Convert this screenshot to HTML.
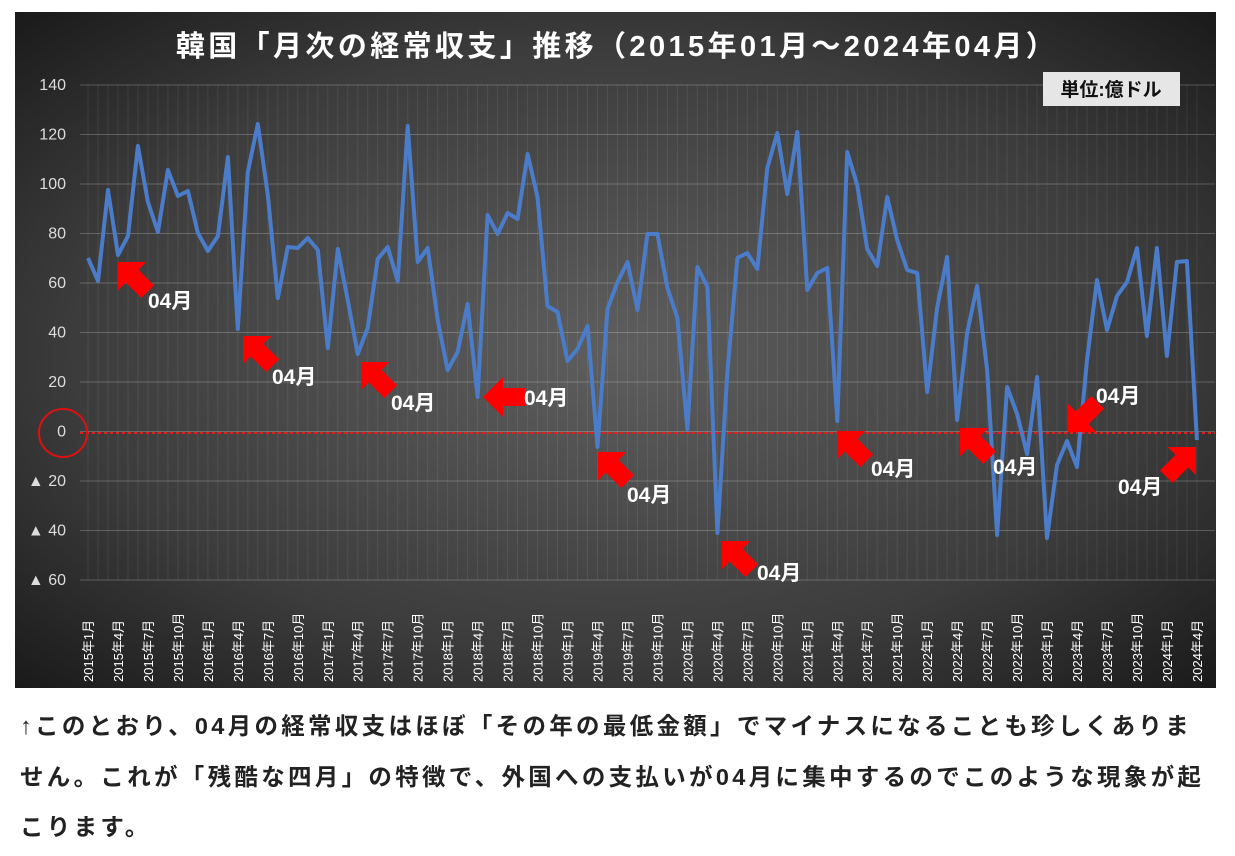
<!DOCTYPE html>
<html><head><meta charset="utf-8"><style>
body{margin:0;background:#fff;width:1235px;height:856px;overflow:hidden;font-family:"Liberation Sans","Noto Sans CJK JP",sans-serif}
.t{position:absolute;left:20px;width:1215px;font-size:23.5px;font-weight:bold;color:#222;letter-spacing:3.3px;white-space:nowrap}
</style></head><body>
<svg width="1235" height="700" style="position:absolute;left:0;top:0" font-family="Liberation Sans, Noto Sans CJK JP, sans-serif">
<defs><radialGradient id="bg" cx="0.5" cy="0.5" r="0.75"><stop offset="0" stop-color="#5e5e5e"/><stop offset="0.6" stop-color="#3c3c3c"/><stop offset="1" stop-color="#141414"/></radialGradient></defs>
<rect x="15" y="12" width="1201" height="676" fill="url(#bg)"/>
<g id="grid"></g>
<text x="617" y="56" fill="#fff" font-size="29" font-weight="bold" text-anchor="middle" letter-spacing="3.4">韓国「月次の経常収支」推移（2015年01月～2024年04月）</text>
<rect x="1043" y="72" width="137" height="34" fill="#e6e6e6"/>
<text x="1111" y="96" font-size="19" font-weight="bold" text-anchor="middle" fill="#111">単位:億ドル</text>
<g id="yl" fill="#ddd" font-size="16" text-anchor="end"></g>
<g id="xl" fill="#fff" font-size="13"></g>
<line x1="80" y1="433" x2="1215" y2="433" stroke="#e02020" stroke-width="2" stroke-dasharray="3,3"/>
<circle cx="63" cy="433" r="24" fill="none" stroke="#e01010" stroke-width="2"/>
<polyline id="ln" fill="none" stroke="#4a7cc9" stroke-width="4" stroke-linejoin="round"/>
<g id="ar" fill="#ff0000"></g>
<g id="al" fill="#fff" font-size="21" font-weight="bold"></g>
</svg>
<div class="t" style="top:707px">↑このとおり、04月の経常収支はほぼ「その年の最低金額」でマイナスになることも珍しくありま</div>
<div class="t" style="top:758px">せん。これが「残酷な四月」の特徴で、外国への支払いが04月に集中するのでこのような現象が起</div>
<div class="t" style="top:808px">こります。</div>
<script>
var ns="http://www.w3.org/2000/svg";
function el(p,t,a,txt){var e=document.createElementNS(ns,t);for(var k in a)e.setAttribute(k,a[k]);if(txt)e.textContent=txt;document.getElementById(p).appendChild(e);}
for(var i=0;i<=10;i++){var y=85+i*49.5;el("grid","line",{x1:80,x2:1215,y1:y,y2:y,stroke:"rgba(255,255,255,0.22)","stroke-width":1});
var v=140-i*20;el("yl","text",{x:66,y:y+5},v<0?"▲ "+(-v):""+v);}
for(var m=0;m<112;m++){var x=88+m*9.99;el("grid","line",{x1:x,x2:x,y1:85,y2:580,stroke:"rgba(255,255,255,0.08)","stroke-width":1});
if(m%3==0){var yr=2015+Math.floor(m/12),mo=m%12+1;el("xl","text",{transform:"translate("+(x+5)+",682) rotate(-90)"},yr+"年"+mo+"月");}}
var Y=[258,281,190,255,236,146,202,232,170,196,191,233,251,236,157,329,172,124,195,298,247,248,238,250,348,249,300,354,328,259,247,281,126,262,248,320,370,352,304,397,215,234,213,219,154,197,306,312,361,349,326,447,309,282,262,310,234,234,288,318,429,267,287,533,372,258,253,269,168,133,194,132,290,273,268,421,152,185,249,266,197,240,270,273,392,308,257,420,333,286,370,535,387,414,454,377,538,465,441,467,360,280,330,296,282,248,336,248,356,262,261,440];
document.getElementById("ln").setAttribute("points",Y.map(function(y,i){return (88+i*9.99).toFixed(1)+","+y}).join(" "));
var A=[[118,262,45,148,308],[243,336,45,272,384],[361,362,45,391,410],[483,397,0,524,405],[598,452,45,627,502],[722,541,45,757,580],[837,431,45,871,476],[960,428,45,993,474],[1068,432,-45,1096,403],[1196,447,135,1118,494]];
A.forEach(function(a){el("ar","polygon",{points:"0,0 20,-20 20,-9 42,-9 42,9 20,9 20,20",transform:"translate("+a[0]+","+a[1]+") rotate("+a[2]+")"});el("al","text",{x:a[3],y:a[4]},"04月");});
</script>
</body></html>
